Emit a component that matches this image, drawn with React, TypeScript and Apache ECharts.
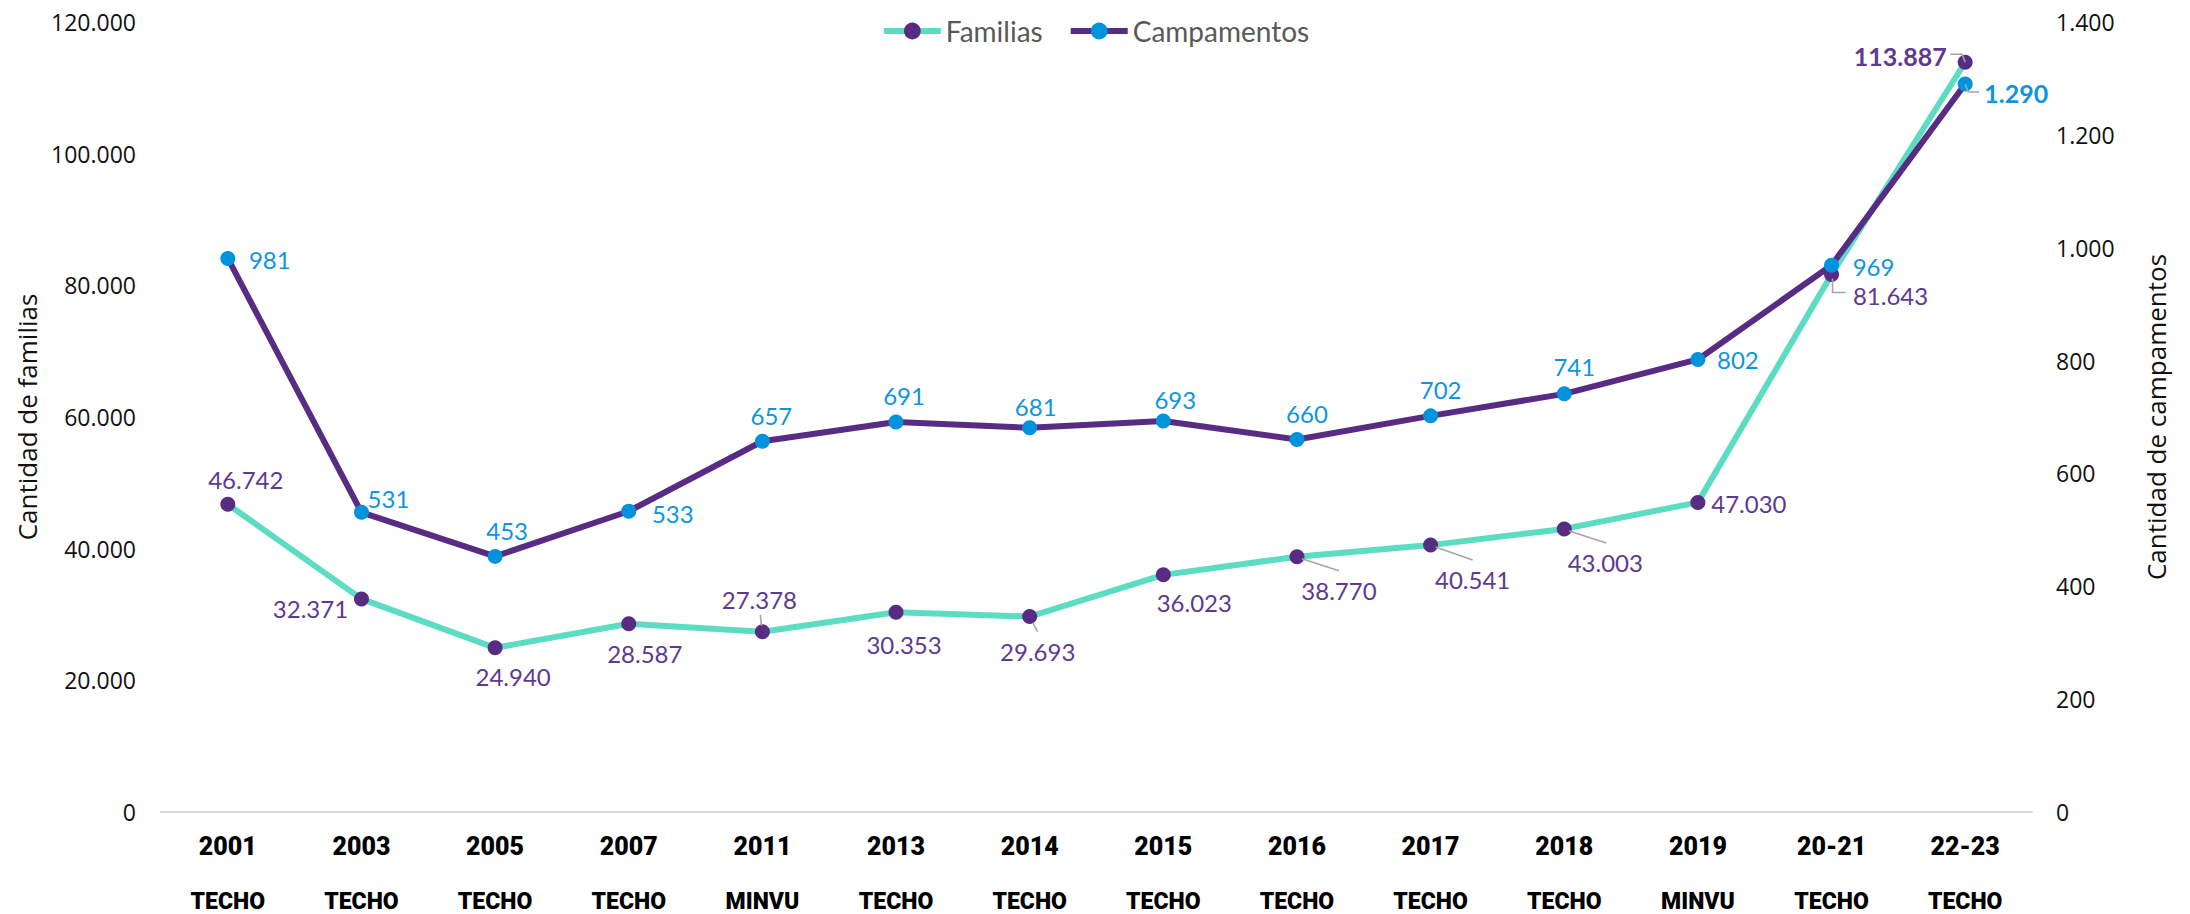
import React, { useEffect, useRef } from "react";
import * as echarts from "echarts";

const categories = ["2001", "2003", "2005", "2007", "2011", "2013", "2014", "2015", "2016", "2017", "2018", "2019", "20-21", "22-23"];
const sources = ["TECHO", "TECHO", "TECHO", "TECHO", "MINVU", "TECHO", "TECHO", "TECHO", "TECHO", "TECHO", "TECHO", "MINVU", "TECHO", "TECHO"];
const familias = [46742, 32371, 24940, 28587, 27378, 30353, 29693, 36023, 38770, 40541, 43003, 47030, 81643, 113887];
const campamentos = [981, 531, 453, 533, 657, 691, 681, 693, 660, 702, 741, 802, 969, 1290];
const leftTicks = { min: 0, max: 120000, interval: 20000 };
const rightTicks = { min: 0, max: 1400, interval: 200 };

// label placement (offset of label centre from point centre, px)
const famLabelOffsets = [[18, -25], [-51, 10], [18, 29], [16, 30], [-3, -32], [8, 32], [8, 35], [31, 28], [42, 34], [42, 34], [41, 34], [51, 1], [59, 21], [-65, -6]];
const campLabelOffsets = [[42, 1], [27, -14], [12, -26], [44, 2], [9, -26], [8, -27], [6, -21], [12, -21], [10, -26], [10, -26], [10, -27], [40, 0], [42, 1], [51, 9]];
// leader line shapes (px, relative to the point), null = none
const famLeaders: (number[][] | null)[] = [null, null, null, null, [[-1, -6], [-2, -17]], null, [[3, 6], [8, 15]], null, [[5, 2], [42, 14]], [[5, 2], [42, 15]], [[5, 2], [42, 14]], null, [[1, 4], [1, 18], [14, 18]], [[0, 0], [-3, -8], [-15, -8]]];
const campLeaders: (number[][] | null)[] = [null, null, null, null, null, null, null, null, null, null, null, null, null, [[0, 0], [3, 8], [14, 8]]];

const TEAL = "#5CDCC2";
const PURPLE = "#582C83";
const BLUE = "#0093DD";
const PURPLE_TXT = "#5E3990";
const BLUE_TXT = "#0E95DD";
const LEADER = "#A6A6A6";

const fmt = (v: number) => String(v).replace(/\B(?=(\d{3})+(?!\d))/g, ".");

function leaderSeries(values: number[], leaders: (number[][] | null)[], yAxisIndex: number) {
  const data: number[][] = [];
  values.forEach((v, i) => {
    if (leaders[i]) data.push([i, v]);
  });
  return {
    type: "custom",
    yAxisIndex,
    silent: true,
    z: 5,
    data,
    renderItem: (params: any, api: any) => {
      const idx = api.value(0);
      const p = api.coord([idx, api.value(1)]);
      const shape = leaders[idx] as number[][];
      return {
        type: "polyline",
        shape: { points: shape.map((o) => [p[0] + o[0], p[1] + o[1]]) },
        style: { stroke: LEADER, lineWidth: 1.6, fill: "none" },
      };
    },
  };
}

export default function App() {
  const ref = useRef<HTMLDivElement>(null);
  useEffect(() => {
    document.body.style.margin = "0";
    const chart = echarts.init(ref.current!, null, { renderer: "svg" });
    const last = categories.length - 1;
    const famData = familias.map((v, i) => ({
      value: v,
      label: {
        offset: famLabelOffsets[i],
        fontWeight: i === last ? "bold" : "normal",
        fontSize: i === last ? 25 : 24,
      },
    }));
    const campData = campamentos.map((v, i) => ({
      value: v,
      label: {
        offset: campLabelOffsets[i],
        fontWeight: i === last ? "bold" : "normal",
        fontSize: i === last ? 25 : 24,
      },
    }));
    const axisLabelStyle = { fontFamily: "Open Sans", fontSize: 23, color: "#111" };
    chart.setOption({
      animation: false,
      backgroundColor: "#fff",
      legend: {
        top: 12,
        left: "center",
        padding: 0,
        itemWidth: 57,
        itemHeight: 21,
        itemGap: 25,
        lineStyle: { width: 6 },
        textStyle: { fontFamily: "Lato", fontSize: 28, color: "#595959", lineHeight: 38 },
        data: ["Familias", "Campamentos"],
      },
      grid: { left: 161, right: 158, top: 22, bottom: 102 },
      xAxis: {
        type: "category",
        data: categories,
        boundaryGap: true,
        axisTick: { show: false },
        axisLine: { lineStyle: { color: "#D9D9D9", width: 2 } },
        axisLabel: {
          margin: 14,
          interval: 0,
          formatter: (v: string, i: number) => `{y|${v}}\n{s|${sources[i]}}`,
          rich: {
            y: { fontFamily: "Roboto", fontWeight: 900, fontSize: 25, color: "#000", lineHeight: 40 },
            s: { fontFamily: "Roboto", fontWeight: 900, fontSize: 23, color: "#000", lineHeight: 70 },
          },
        },
      },
      yAxis: [
        {
          type: "value",
          ...leftTicks,
          position: "left",
          splitLine: { show: false },
          axisLine: { show: false },
          axisTick: { show: false },
          axisLabel: { ...axisLabelStyle, margin: 25, formatter: (v: number) => fmt(v) },
          name: "Cantidad de familias",
          nameLocation: "middle",
          nameGap: 121,
          nameTextStyle: { fontFamily: "Open Sans", fontSize: 26, color: "#111" },
        },
        {
          type: "value",
          ...rightTicks,
          position: "right",
          splitLine: { show: false },
          axisLine: { show: false },
          axisTick: { show: false },
          axisLabel: { ...axisLabelStyle, margin: 24, formatter: (v: number) => fmt(v) },
          name: "Cantidad de campamentos",
          nameLocation: "middle",
          nameGap: 111,
          nameRotate: 90,
          nameTextStyle: { fontFamily: "Open Sans", fontSize: 26, color: "#111" },
        },
      ],
      series: [
        {
          name: "Familias",
          type: "line",
          yAxisIndex: 0,
          data: famData,
          symbol: "circle",
          symbolSize: 15,
          lineStyle: { color: TEAL, width: 6 },
          itemStyle: { color: PURPLE },
          label: {
            show: true,
            position: "inside",
            color: PURPLE_TXT,
            fontFamily: "Lato",
            fontSize: 24,
            formatter: (p: any) => fmt(p.value),
          },
          z: 2,
        },
        {
          name: "Campamentos",
          type: "line",
          yAxisIndex: 1,
          data: campData,
          symbol: "circle",
          symbolSize: 15,
          lineStyle: { color: PURPLE, width: 6 },
          itemStyle: { color: BLUE },
          label: {
            show: true,
            position: "inside",
            color: BLUE_TXT,
            fontFamily: "Lato",
            fontSize: 24,
            formatter: (p: any) => fmt(p.value),
          },
          z: 3,
        },
        leaderSeries(familias, famLeaders, 0),
        leaderSeries(campamentos, campLeaders, 1),
      ],
    });
    return () => chart.dispose();
  }, []);
  return <div ref={ref} style={{ width: 2190, height: 914 }} />;
}
